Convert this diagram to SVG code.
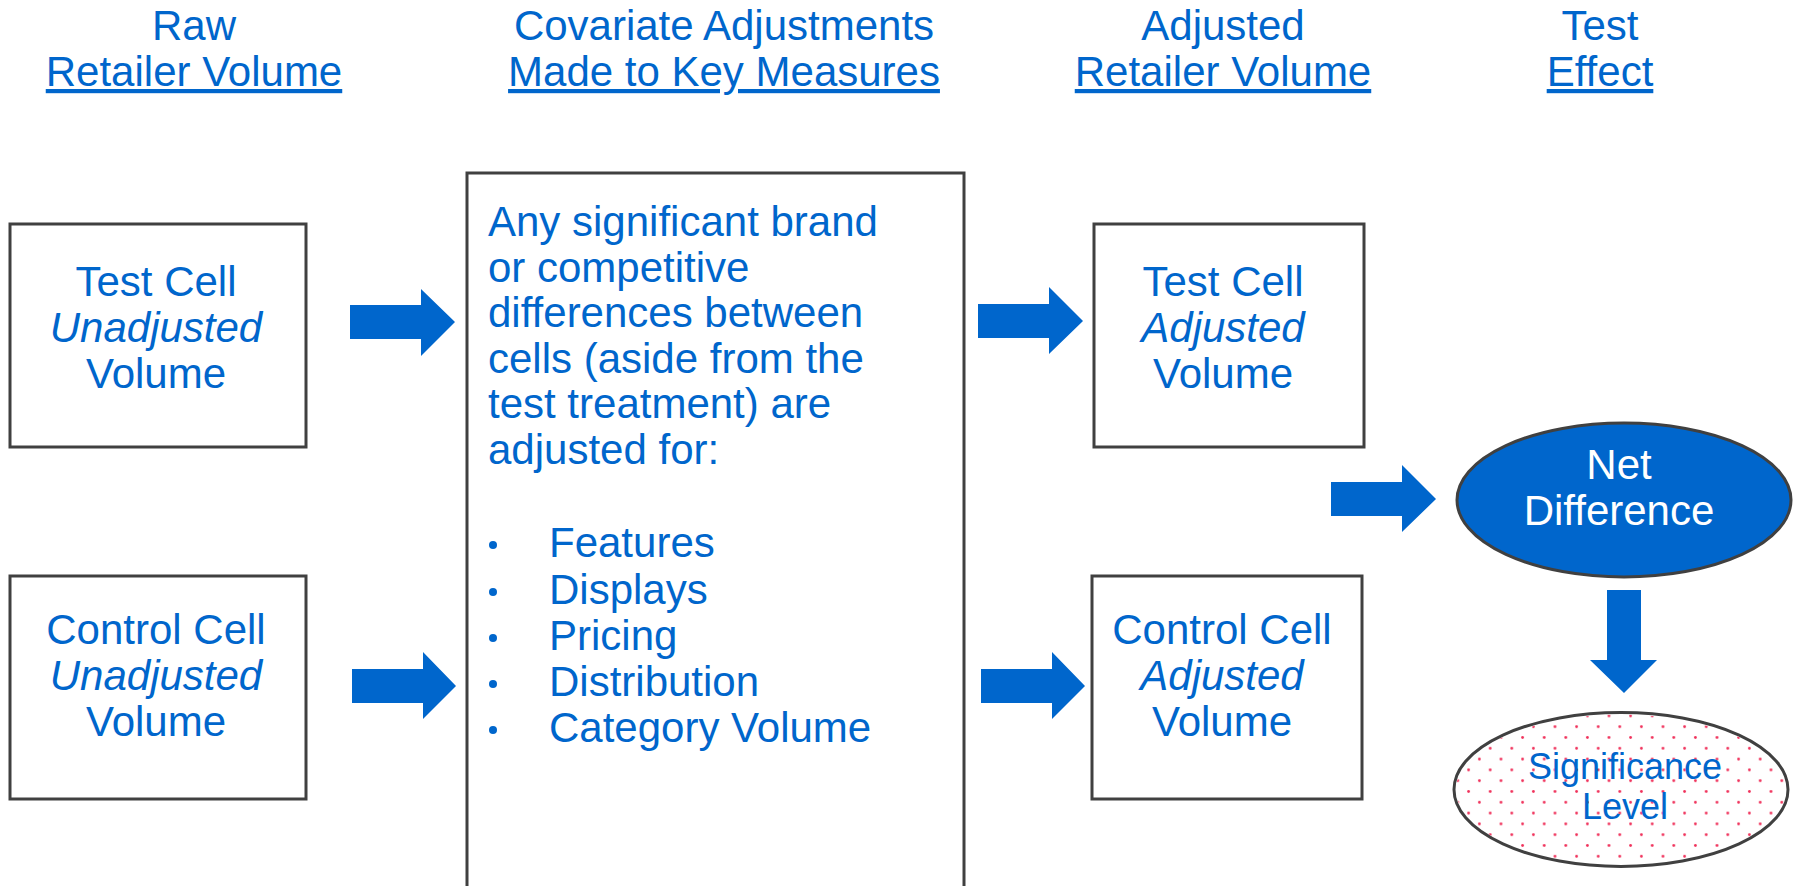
<svg xmlns="http://www.w3.org/2000/svg" width="1793" height="886" viewBox="0 0 1793 886">
<style>
text{font-family:"Liberation Sans",Arial,sans-serif;fill:#0066CC;font-size:42px}
.hd{text-anchor:middle}
.ul{text-decoration:underline}
.c{text-anchor:middle}
.i{font-style:italic}
.box{fill:#fff;stroke:#404040;stroke-width:3}
.arr{fill:#0066CC}
.w{fill:#fff}
.sm{font-size:36px}
</style>
<defs>
<pattern id="dots" patternUnits="userSpaceOnUse" x="1549.6" y="721.3" width="21.6" height="21.6">
<circle cx="5.4" cy="5.4" r="1.4" fill="#F0305A"/>
<circle cx="16.2" cy="16.2" r="1.4" fill="#F0305A"/>
</pattern>
</defs>
<rect width="1793" height="886" fill="#fff"/>
<g id="headers">
<text class="hd" x="194" y="40">Raw</text>
<text class="hd ul" x="194" y="86">Retailer Volume</text>
<text class="hd" x="724" y="40">Covariate Adjustments</text>
<text class="hd ul" x="724" y="86">Made to Key Measures</text>
<text class="hd" x="1223" y="40">Adjusted</text>
<text class="hd ul" x="1223" y="86">Retailer Volume</text>
<text class="hd" x="1600" y="40">Test</text>
<text class="hd ul" x="1600" y="86">Effect</text>
</g>
<g id="test-unadj">
<rect class="box" x="10" y="224" width="296" height="223"/>
<text class="c" x="156" y="296">Test Cell</text>
<text class="c i" x="156" y="342">Unadjusted</text>
<text class="c" x="156" y="388">Volume</text>
</g>
<g id="control-unadj">
<rect class="box" x="10" y="576" width="296" height="223"/>
<text class="c" x="156" y="644">Control Cell</text>
<text class="c i" x="156" y="690">Unadjusted</text>
<text class="c" x="156" y="736">Volume</text>
</g>
<g id="covariate">
<rect class="box" x="467" y="173" width="497" height="760"/>
<text x="488" y="236">Any significant brand</text>
<text x="488" y="282">or competitive</text>
<text x="488" y="327">differences between</text>
<text x="488" y="373">cells (aside from the</text>
<text x="488" y="418">test treatment) are</text>
<text x="488" y="464">adjusted for:</text>
<g class="arr">
<circle cx="493" cy="545" r="4"/>
<circle cx="493" cy="592" r="4"/>
<circle cx="493" cy="638" r="4"/>
<circle cx="493" cy="684" r="4"/>
<circle cx="493" cy="730" r="4"/>
</g>
<text x="549" y="557">Features</text>
<text x="549" y="604">Displays</text>
<text x="549" y="650">Pricing</text>
<text x="549" y="696">Distribution</text>
<text x="549" y="742">Category Volume</text>
</g>
<g id="test-adj">
<rect class="box" x="1094" y="224" width="270" height="223"/>
<text class="c" x="1223" y="296">Test Cell</text>
<text class="c i" x="1223" y="342">Adjusted</text>
<text class="c" x="1223" y="388">Volume</text>
</g>
<g id="control-adj">
<rect class="box" x="1092" y="576" width="270" height="223"/>
<text class="c" x="1222" y="644">Control Cell</text>
<text class="c i" x="1222" y="690">Adjusted</text>
<text class="c" x="1222" y="736">Volume</text>
</g>
<g id="net-diff">
<ellipse cx="1624" cy="500" rx="167" ry="77" fill="#0066CC" stroke="#404040" stroke-width="3"/>
<text class="c w" x="1619" y="479">Net</text>
<text class="c w" x="1619" y="525">Difference</text>
</g>
<g id="significance">
<ellipse cx="1621" cy="789.5" rx="167" ry="77" fill="#fff" stroke="#404040" stroke-width="3"/>
<ellipse cx="1621" cy="789.5" rx="165" ry="75" fill="url(#dots)"/>
<text class="c sm" x="1625" y="779">Significance</text>
<text class="c sm" x="1625" y="819">Level</text>
</g>
<g id="connectors" class="arr">
<polygon points="350,305 421,305 421,289 455,322 421,356 421,339 350,339"/>
<polygon points="352,669 423,669 423,652 456,686 423,719 423,703 352,703"/>
<polygon points="978,304 1049,304 1049,287 1083,321 1049,354 1049,338 978,338"/>
<polygon points="981,669 1052,669 1052,652 1085,686 1052,719 1052,703 981,703"/>
<polygon points="1331,482 1402,482 1402,465 1436,499 1402,532 1402,516 1331,516"/>
<polygon points="1607,590 1641,590 1641,660 1657,660 1624,693 1590,660 1607,660"/>
</g>
</svg>
